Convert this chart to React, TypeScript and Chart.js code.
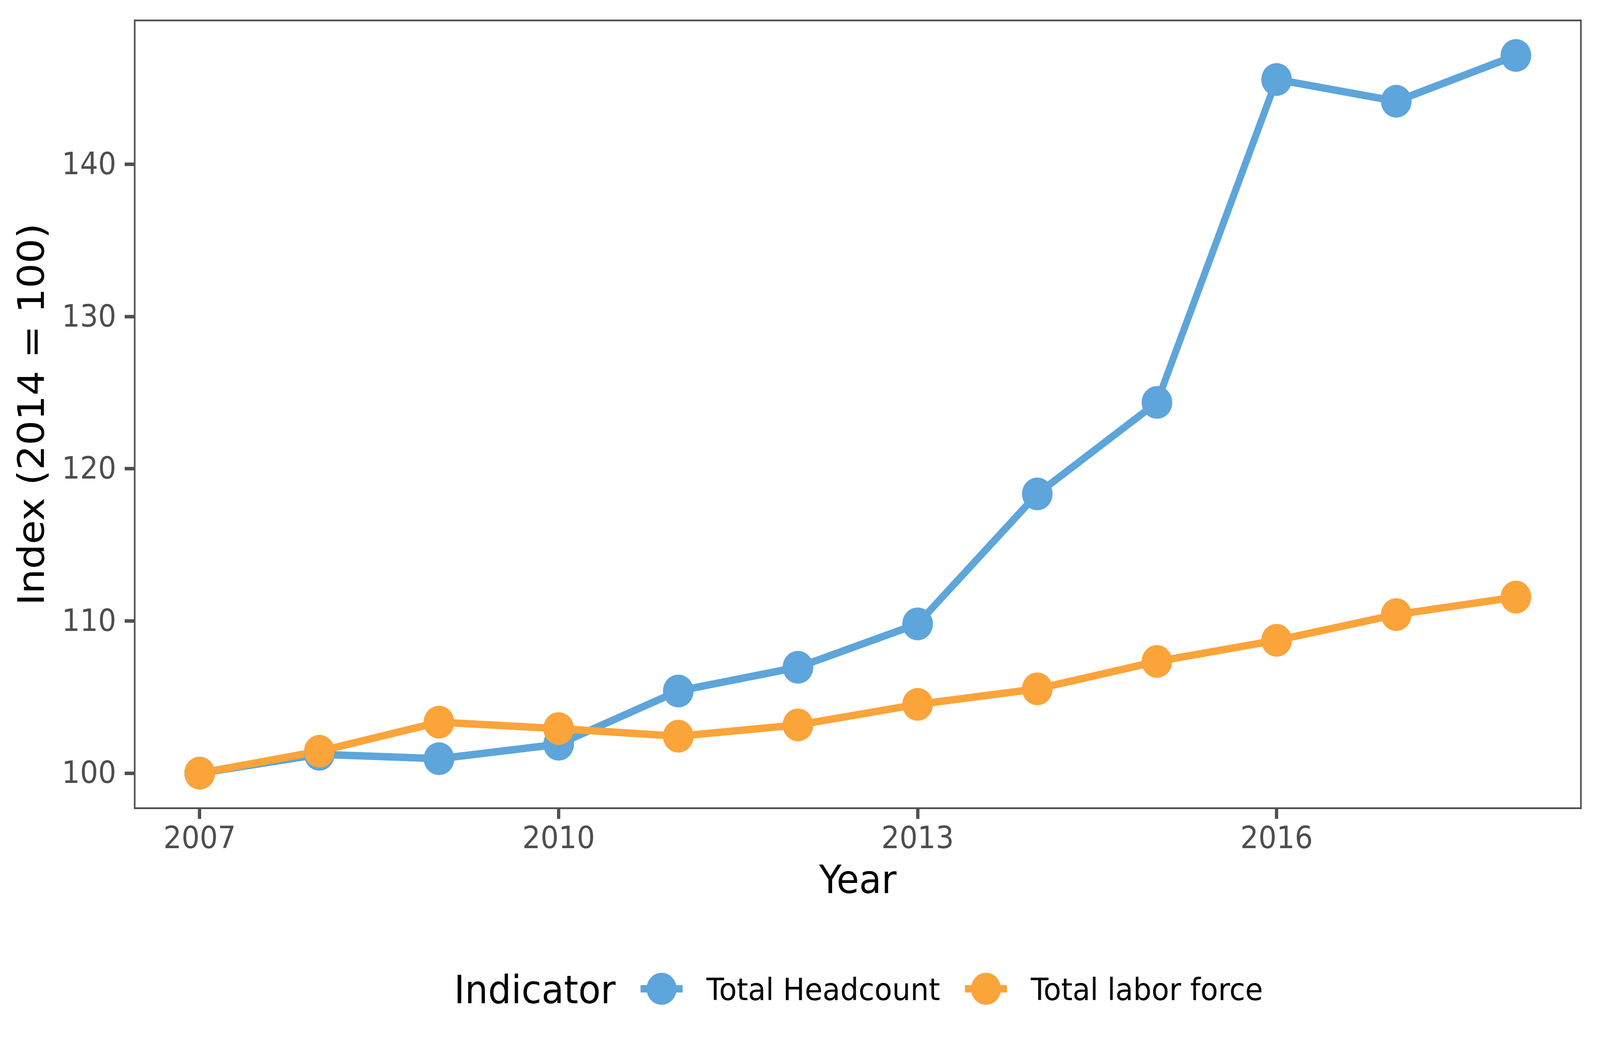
import React, { useEffect, useRef } from "react";
import { Chart, registerables } from "chart.js";

Chart.register(...registerables);

const YEARS = [2007, 2008, 2009, 2010, 2011, 2012, 2013, 2014, 2015, 2016, 2017, 2018];
const HEADCOUNT = [100, 101.24, 100.95, 101.9, 105.4, 106.96, 109.81, 118.35, 124.36, 145.58, 144.15, 147.16];
const LABOR_FORCE = [100, 101.44, 103.35, 102.93, 102.43, 103.17, 104.52, 105.54, 107.34, 108.73, 110.42, 111.57];
const X_TICKS = [2007, 2010, 2013, 2016];
const Y_TICKS = [100, 110, 120, 130, 140];
const SERIES_NAMES = ["Total Headcount", "Total labor force"];
const SERIES_COLORS = ["#5DA5DA", "#FAA43A"];
const LEGEND_TITLE = "Indicator";
const X_TITLE = "Year";
const Y_TITLE = "Index (2014 = 100)";

const W = 4375;
const H = 2703;
const FONT = "'DejaVu Sans', 'Liberation Sans', sans-serif";
const AXIS_COLOR = "#505050";

export default function App() {
  const ref = useRef<HTMLCanvasElement | null>(null);

  useEffect(() => {
    const canvas = ref.current;
    if (!canvas) return;
    const prevMargin = document.body.style.margin;
    const prevOverflow = document.body.style.overflow;
    document.body.style.margin = "0";
    document.body.style.overflow = "hidden";

    const pts = (vals: number[]) => YEARS.map((y, i) => ({ x: y, y: vals[i] }));

    const borderPlugin = {
      id: "panelBorder",
      afterDraw(chart: any) {
        const { ctx, chartArea } = chart;
        const lw = 4.5;
        ctx.save();
        ctx.strokeStyle = AXIS_COLOR;
        ctx.lineWidth = lw;
        ctx.strokeRect(
          chartArea.left + lw / 2,
          chartArea.top + lw / 2,
          chartArea.right - chartArea.left - lw,
          chartArea.bottom - chartArea.top - lw
        );
        ctx.restore();
      },
    };

    const legendPlugin = {
      id: "customLegend",
      afterDraw(chart: any) {
        const ctx = chart.ctx as CanvasRenderingContext2D;
        ctx.save();
        ctx.font = `100px ${FONT}`;
        const tW = ctx.measureText(LEGEND_TITLE).width;
        ctx.font = `79px ${FONT}`;
        const lWs = SERIES_NAMES.map((n) => ctx.measureText(n).width);
        const titleGap = 68;
        const keyW = 115;
        const keyTextGap = 65;
        const itemGap = 68;
        let total = tW;
        lWs.forEach((w) => {
          total += titleGap + keyW + keyTextGap + w;
        });
        const cx = (chart.chartArea.left + chart.chartArea.right) / 2 + 2;
        let x = cx - total / 2;
        const keyY = 2531;
        ctx.fillStyle = "#000000";
        ctx.textBaseline = "alphabetic";
        ctx.textAlign = "left";
        ctx.font = `100px ${FONT}`;
        ctx.fillText(LEGEND_TITLE, x, 2568);
        x += tW + titleGap;
        SERIES_NAMES.forEach((name, i) => {
          ctx.strokeStyle = SERIES_COLORS[i];
          ctx.lineWidth = 19;
          ctx.lineCap = "butt";
          ctx.beginPath();
          ctx.moveTo(x, keyY);
          ctx.lineTo(x + keyW, keyY);
          ctx.stroke();
          ctx.fillStyle = SERIES_COLORS[i];
          ctx.beginPath();
          ctx.arc(x + keyW / 2, keyY, 41, 0, Math.PI * 2);
          ctx.fill();
          x += keyW + keyTextGap;
          ctx.fillStyle = "#000000";
          ctx.font = `79px ${FONT}`;
          ctx.fillText(name, x, 2560);
          x += lWs[i] + itemGap;
        });
        ctx.restore();
      },
    };

    const lineDs = (i: number, vals: number[], order: number) => ({
      label: SERIES_NAMES[i] + " line",
      data: pts(vals),
      borderColor: SERIES_COLORS[i],
      backgroundColor: SERIES_COLORS[i],
      borderWidth: 19,
      borderJoinStyle: "round" as const,
      borderCapStyle: "butt" as const,
      pointRadius: 0,
      pointHoverRadius: 0,
      tension: 0,
      order,
      clip: false as any,
    });
    const pointDs = (i: number, vals: number[], order: number) => ({
      label: SERIES_NAMES[i],
      data: pts(vals),
      borderColor: SERIES_COLORS[i],
      backgroundColor: SERIES_COLORS[i],
      showLine: false,
      pointRadius: 42,
      pointBorderWidth: 0,
      pointHoverRadius: 42,
      order,
      clip: false as any,
    });

    const chart = new Chart(canvas, {
      type: "line",
      data: {
        datasets: [
          pointDs(1, LABOR_FORCE, 0),
          pointDs(0, HEADCOUNT, 1),
          lineDs(1, LABOR_FORCE, 2),
          lineDs(0, HEADCOUNT, 3),
        ] as any,
      },
      options: {
        animation: false,
        responsive: false,
        devicePixelRatio: 1,
        events: [],
        layout: { padding: { left: 0, right: 50, top: 50, bottom: 0 } },
        plugins: {
          legend: { display: false },
          tooltip: { enabled: false },
          title: { display: false },
        },
        scales: {
          x: {
            type: "linear",
            min: 2006.45,
            max: 2018.55,
            afterBuildTicks: (scale: any) => {
              scale.ticks = X_TICKS.map((v) => ({ value: v }));
            },
            afterFit: (scale: any) => {
              scale.height = H - 2071;
              scale.paddingLeft = 0;
              scale.paddingRight = 0;
              scale.paddingTop = 0;
              scale.paddingBottom = 0;
            },
            ticks: {
              callback: (v: any) => String(v),
              font: { family: FONT, size: 78 },
              color: "#4D4D4D",
              padding: 8,
              maxRotation: 0,
              autoSkip: false,
            },
            grid: {
              display: true,
              drawOnChartArea: false,
              drawTicks: true,
              tickLength: 25,
              tickWidth: 9,
              tickColor: AXIS_COLOR,
            },
            border: { display: false },
            title: {
              display: true,
              text: X_TITLE,
              color: "#000000",
              font: { family: FONT, size: 100 },
              padding: { top: 0, bottom: 382.7 },
            },
          },
          y: {
            type: "linear",
            min: 97.64,
            max: 149.52,
            afterBuildTicks: (scale: any) => {
              scale.ticks = Y_TICKS.map((v) => ({ value: v }));
            },
            afterFit: (scale: any) => {
              scale.width = 366;
              scale.paddingLeft = 0;
              scale.paddingRight = 0;
              scale.paddingTop = 0;
              scale.paddingBottom = 0;
            },
            ticks: {
              callback: (v: any) => String(v),
              font: { family: FONT, size: 78 },
              color: "#4D4D4D",
              padding: 23,
              labelOffset: 5,
              autoSkip: false,
            },
            grid: {
              display: true,
              drawOnChartArea: false,
              drawTicks: true,
              tickLength: 25,
              tickWidth: 9,
              tickColor: AXIS_COLOR,
            },
            border: { display: false },
            title: {
              display: true,
              text: Y_TITLE,
              color: "#000000",
              font: { family: FONT, size: 100 },
              padding: { top: 34.3, bottom: 0 },
            },
          },
        },
      } as any,
      plugins: [borderPlugin, legendPlugin],
    });

    return () => {
      chart.destroy();
      document.body.style.margin = prevMargin;
      document.body.style.overflow = prevOverflow;
    };
  }, []);

  return (
    <div
      style={{
        position: "fixed",
        left: 0,
        top: 0,
        width: "100vw",
        height: "100vh",
        background: "#ffffff",
        overflow: "hidden",
      }}
    >
      <canvas
        ref={ref}
        width={W}
        height={H}
        style={{ width: "100vw", height: "100vh", display: "block" }}
      />
    </div>
  );
}
